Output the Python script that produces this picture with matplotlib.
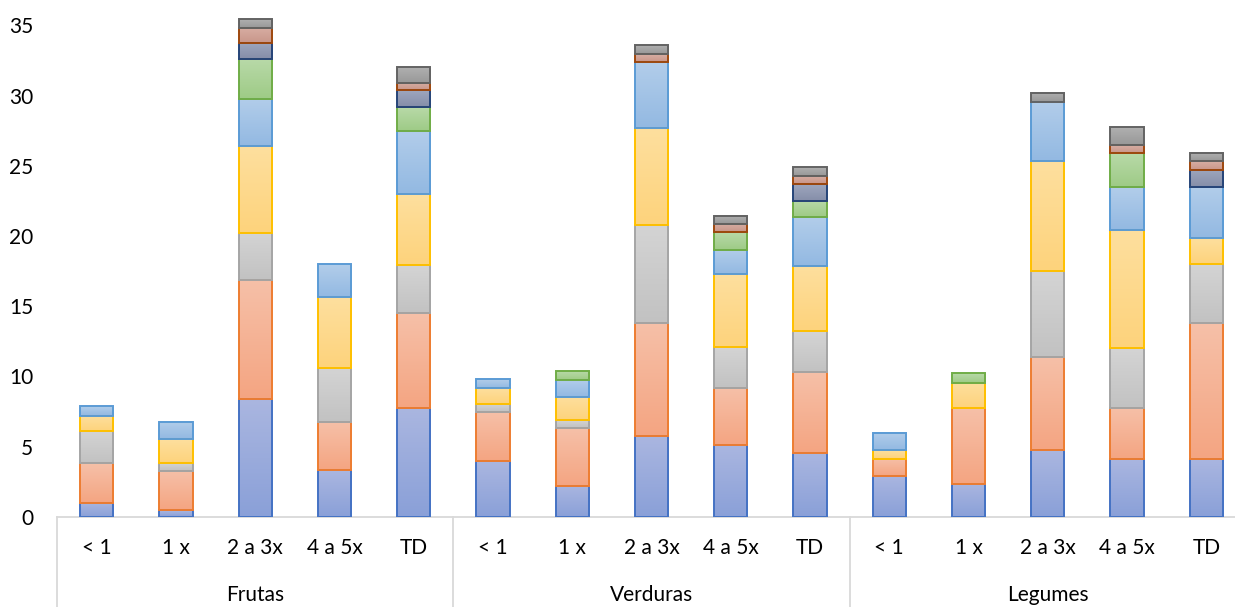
import numpy as np
import matplotlib.pyplot as plt
from matplotlib.colors import LinearSegmentedColormap

plt.rcParams['font.family'] = ['Lato', 'DejaVu Sans']

grupos = ['Frutas', 'Verduras', 'Legumes']
frequencias = ['< 1', '1 x', '2 a 3x', '4 a 5x', 'TD']

# valores (%) de cada segmento, na ordem Frutas / Verduras / Legumes x frequencia
serie_1 = [1.03, 0.48, 8.37, 3.32, 7.79, 3.97, 2.24, 5.73, 5.12, 4.57, 2.93, 2.36, 4.76, 4.14, 4.14]
serie_2 = [2.79, 2.82, 8.47, 3.42, 6.76, 3.49, 4.06, 8.10, 4.07, 5.77, 1.21, 5.41, 6.64, 3.63, 9.67]
serie_3 = [2.31, 0.57, 3.37, 3.89, 3.40, 0.60, 0.58, 6.98, 2.93, 2.89, 0.00, 0.00, 6.09, 4.26, 4.23]
serie_4 = [1.09, 1.66, 6.18, 5.05, 5.05, 1.11, 1.68, 6.90, 5.18, 4.64, 0.60, 1.80, 7.82, 8.42, 1.81]
serie_5 = [0.65, 1.21, 3.37, 2.31, 4.50, 0.64, 1.21, 4.69, 1.73, 3.47, 1.27, 0.00, 4.23, 3.05, 3.65]
serie_6 = [0.00, 0.00, 2.81, 0.00, 1.68, 0.00, 0.62, 0.00, 1.23, 1.18, 0.00, 0.65, 0.00, 2.41, 0.00]
serie_7 = [0.00, 0.00, 1.16, 0.00, 1.18, 0.00, 0.00, 0.00, 0.00, 1.17, 0.00, 0.00, 0.00, 0.00, 1.21]
serie_8 = [0.00, 0.00, 1.10, 0.00, 0.55, 0.00, 0.00, 0.56, 0.57, 0.61, 0.00, 0.00, 0.00, 0.55, 0.60]
serie_9 = [0.00, 0.00, 0.63, 0.00, 1.13, 0.00, 0.00, 0.62, 0.60, 0.60, 0.00, 0.00, 0.65, 1.28, 0.62]

series = [serie_1, serie_2, serie_3, serie_4, serie_5, serie_6, serie_7, serie_8, serie_9]

# (borda, topo do gradiente, base do gradiente)
estilos = [
    ('#4472C4', '#aab6e0', '#8aa0d8'),
    ('#ED7D31', '#f6c0a8', '#f4a582'),
    ('#A5A5A5', '#d4d4d4', '#c2c2c2'),
    ('#FFC000', '#fedf9e', '#fdd37c'),
    ('#5B9BD5', '#b2cdea', '#93b9e2'),
    ('#70AD47', '#b8d9a8', '#9ecb86'),
    ('#264478', '#9ea6bd', '#858ea9'),
    ('#9E480E', '#d7aea3', '#c9968a'),
    ('#636363', '#b0b0b0', '#989898'),
]

fig = plt.figure(figsize=(12.35, 6.07), dpi=100)
W, H = 1235, 607
x0, x1 = 57, 1246
y0 = 517
px_por_unidade = 14.05
ax = fig.add_axes([x0 / W, (H - y0) / H, (x1 - x0) / W, y0 / H])

x = np.arange(len(serie_1))
largura = 0.42
base = np.zeros(len(x))
for valores, (borda, c_topo, c_base) in zip(series, estilos):
    valores = np.array(valores)
    cmap = LinearSegmentedColormap.from_list('g', [c_base, c_topo])
    gradiente = np.linspace(0, 1, 64).reshape(-1, 1)
    for xi, b, v in zip(x, base, valores):
        if v <= 0:
            continue
        ax.imshow(gradiente, cmap=cmap, origin='lower', aspect='auto',
                  extent=(xi - largura / 2, xi + largura / 2, b, b + v), zorder=2)
        ax.bar(xi, v, largura, bottom=b, facecolor='none', edgecolor=borda,
               linewidth=1.4, zorder=3)
    base += valores

ax.set_xlim(-0.5, len(x) - 0.5)
ax.set_ylim(0, y0 / px_por_unidade)
ax.set_yticks(range(0, 36, 5))
ax.tick_params(axis='y', length=0, labelsize=15, pad=17, colors='black')
ax.tick_params(axis='x', length=0)
ax.set_xticks([])
for s in ['top', 'right', 'left']:
    ax.spines[s].set_visible(False)
ax.spines['bottom'].set_color('#d9d9d9')
ax.spines['bottom'].set_linewidth(1.3)
ax.spines['bottom'].set_zorder(1)

# rotulos de frequencia e de grupo abaixo do eixo
trans = ax.get_xaxis_transform()
for i, xi in enumerate(x):
    ax.text(xi, -31 / y0, frequencias[i % 5], transform=trans, ha='center',
            va='center', fontsize=15, color='black')
for g, nome in enumerate(grupos):
    ax.text(g * 5 + 2, -78 / y0, nome, transform=trans, ha='center',
            va='center', fontsize=15, color='black')

# linhas separadoras entre os grupos
for g in range(len(grupos) + 1):
    ax.plot([g * 5 - 0.5, g * 5 - 0.5], [0, -(H - y0) / y0], transform=trans,
            color='#d9d9d9', linewidth=1.3, clip_on=False, zorder=1)

fig.savefig('out.png', dpi=100)
